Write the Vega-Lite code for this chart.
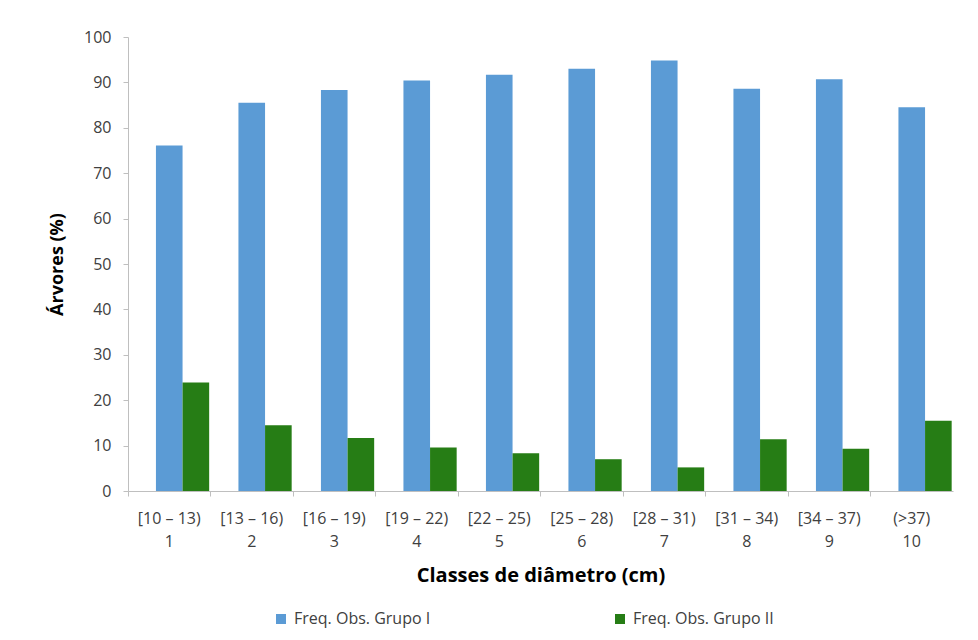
{
  "$schema": "https://vega.github.io/schema/vega-lite/v6.json",
  "width": 825,
  "height": 454,
  "autosize": {"type": "none"},
  "padding": {"left": 128, "top": 37, "right": 25, "bottom": 149},
  "background": "white",
  "config": {
    "font": "Open Sans",
    "view": {"stroke": null}
  },
  "data": {
    "values": [
      {"rotulo": "[10 – 13)|1", "grupo": "Freq. Obs. Grupo I", "freq": 76.1},
      {"rotulo": "[10 – 13)|1", "grupo": "Freq. Obs. Grupo II", "freq": 23.9},
      {"rotulo": "[13 – 16)|2", "grupo": "Freq. Obs. Grupo I", "freq": 85.5},
      {"rotulo": "[13 – 16)|2", "grupo": "Freq. Obs. Grupo II", "freq": 14.5},
      {"rotulo": "[16 – 19)|3", "grupo": "Freq. Obs. Grupo I", "freq": 88.3},
      {"rotulo": "[16 – 19)|3", "grupo": "Freq. Obs. Grupo II", "freq": 11.7},
      {"rotulo": "[19 – 22)|4", "grupo": "Freq. Obs. Grupo I", "freq": 90.4},
      {"rotulo": "[19 – 22)|4", "grupo": "Freq. Obs. Grupo II", "freq": 9.6},
      {"rotulo": "[22 – 25)|5", "grupo": "Freq. Obs. Grupo I", "freq": 91.7},
      {"rotulo": "[22 – 25)|5", "grupo": "Freq. Obs. Grupo II", "freq": 8.3},
      {"rotulo": "[25 – 28)|6", "grupo": "Freq. Obs. Grupo I", "freq": 93.0},
      {"rotulo": "[25 – 28)|6", "grupo": "Freq. Obs. Grupo II", "freq": 7.0},
      {"rotulo": "[28 – 31)|7", "grupo": "Freq. Obs. Grupo I", "freq": 94.8},
      {"rotulo": "[28 – 31)|7", "grupo": "Freq. Obs. Grupo II", "freq": 5.2},
      {"rotulo": "[31 – 34)|8", "grupo": "Freq. Obs. Grupo I", "freq": 88.6},
      {"rotulo": "[31 – 34)|8", "grupo": "Freq. Obs. Grupo II", "freq": 11.4},
      {"rotulo": "[34 – 37)|9", "grupo": "Freq. Obs. Grupo I", "freq": 90.7},
      {"rotulo": "[34 – 37)|9", "grupo": "Freq. Obs. Grupo II", "freq": 9.3},
      {"rotulo": "(>37)|10", "grupo": "Freq. Obs. Grupo I", "freq": 84.5},
      {"rotulo": "(>37)|10", "grupo": "Freq. Obs. Grupo II", "freq": 15.5}
    ]
  },
  "mark": {"type": "bar"},
  "encoding": {
    "x": {
      "field": "rotulo",
      "type": "nominal",
      "sort": null,
      "scale": {"paddingInner": 0, "paddingOuter": 0},
      "axis": {
        "title": "Classes de diâmetro (cm)",
        "titleFontSize": 20,
        "titleFontWeight": "bold",
        "titleColor": "#000000",
        "titlePadding": 16,
        "labelExpr": "split(datum.label, '|')",
        "labelAngle": 0,
        "labelFontSize": 16,
        "labelColor": "#404040",
        "labelPadding": 14,
        "labelLineHeight": 23,
        "bandPosition": 0,
        "tickColor": "#bfbfbf",
        "tickSize": 5,
        "domainColor": "#bfbfbf",
        "labelBound": false,
        "labelOverlap": false
      }
    },
    "xOffset": {
      "field": "grupo",
      "type": "nominal",
      "scale": {"domain": ["", "Freq. Obs. Grupo I", "Freq. Obs. Grupo II"], "paddingInner": 0, "paddingOuter": 0.05}
    },
    "y": {
      "field": "freq",
      "type": "quantitative",
      "scale": {"domain": [0, 100], "nice": false},
      "axis": {
        "title": "Árvores (%)",
        "titleFontSize": 18,
        "titleFontWeight": "bold",
        "titleColor": "#000000",
        "titlePadding": 17,
        "values": [0, 10, 20, 30, 40, 50, 60, 70, 80, 90, 100],
        "grid": false,
        "labelFontSize": 16,
        "labelColor": "#404040",
        "labelPadding": 12,
        "tickColor": "#bfbfbf",
        "tickSize": 5,
        "domainColor": "#bfbfbf"
      }
    },
    "color": {
      "field": "grupo",
      "type": "nominal",
      "scale": {"domain": ["Freq. Obs. Grupo I", "Freq. Obs. Grupo II"], "range": ["#5b9bd5", "#267d15"]},
      "legend": {
        "title": null,
        "orient": "none",
        "direction": "horizontal",
        "legendX": 145,
        "legendY": 574,
        "symbolType": "square",
        "symbolSize": 100,
        "symbolStrokeWidth": 0,
        "labelFontSize": 16,
        "labelColor": "#404040",
        "labelOffset": 5,
        "columnPadding": 181
      }
    }
  }
}
